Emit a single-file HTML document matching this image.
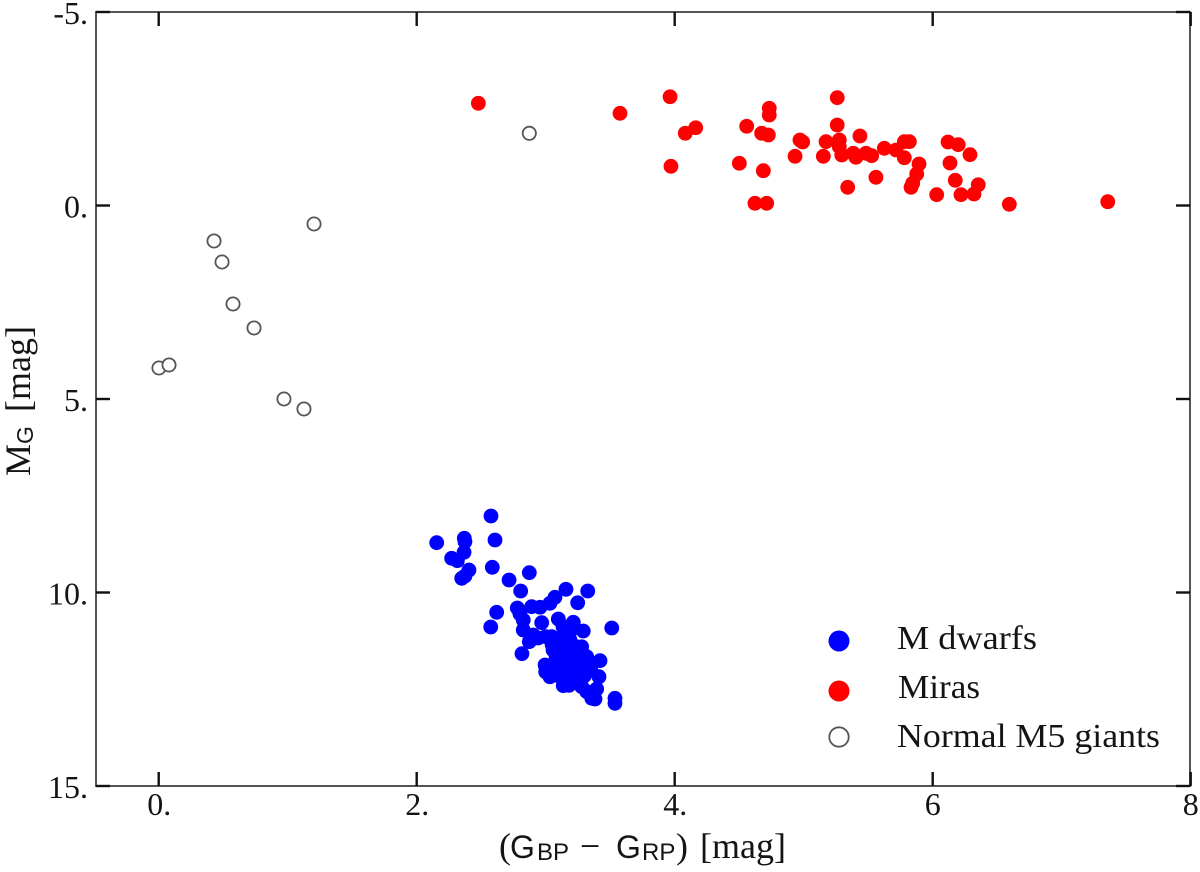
<!DOCTYPE html>
<html lang="en">
<head>
<meta charset="utf-8">
<title>Colour-magnitude diagram</title>
<style>
html,body{margin:0;padding:0;background:#fff;}
svg{display:block;filter:blur(0.35px);}
text{font-family:"Liberation Serif",serif;fill:#141414;}
.sans{font-family:"Liberation Sans",sans-serif;}
</style>
</head>
<body>
<svg id="chart" xmlns="http://www.w3.org/2000/svg" width="1200" height="872" viewBox="0 0 1200 872">
  <g id="marks"></g>
  <rect x="96" y="12" width="1094" height="774" fill="none" stroke="#555" stroke-width="2"></rect>
  <g id="axes"></g>
  <text y="858" font-size="36"><tspan x="499">(</tspan><tspan class="sans" font-size="32" x="510">G</tspan><tspan class="sans" font-size="24" x="537" dy="2">BP</tspan><tspan x="580" dy="-2" font-size="36">−</tspan><tspan class="sans" font-size="32" x="616">G</tspan><tspan class="sans" font-size="24" x="642" dy="2">RP</tspan><tspan x="676" dy="-2" font-size="36">)</tspan><tspan x="700" font-size="36">[mag]</tspan></text>
  <text transform="translate(30,476) rotate(-90)" font-size="36"><tspan x="0">M</tspan><tspan class="sans" font-size="23" x="32" dy="3">G</tspan><tspan x="64" dy="-3" font-size="36">[mag]</tspan></text>
  <g>
    <g>
      <circle cx="839" cy="641" r="10.5" fill="#0000ff"></circle>
      <text x="897" y="649" font-size="34" textLength="140" lengthAdjust="spacingAndGlyphs">M dwarfs</text>
    </g>
    <g>
      <circle cx="839" cy="691" r="10.5" fill="#ff0000"></circle>
      <text x="898" y="698" font-size="34" textLength="82" lengthAdjust="spacingAndGlyphs">Miras</text>
    </g>
    <g>
      <circle cx="839" cy="737" r="9.7" fill="#fff" stroke="#555" stroke-width="1.8"></circle>
      <text x="897" y="747" font-size="34" textLength="263" lengthAdjust="spacingAndGlyphs">Normal M5 giants</text>
    </g>
  </g>
</svg>
<script>
const xTickValues = [0, 2, 4, 6, 8];
const xTickLabels = ["0.", "2.", "4.", "6", "8"];
const yTickValues = [-5, 0, 5, 10, 15];
const yTickLabels = ["-5.", "0.", "5.", "10.", "15."];

const miraColour = [2.478,3.576,3.964,3.971,4.163,4.082,4.558,4.501,4.687,4.674,4.726,4.733,4.733,4.622,4.713,4.971,4.992,4.933,5.260,5.260,5.173,5.152,5.276,5.276,5.295,5.436,5.384,5.405,5.483,5.527,5.341,5.560,5.625,5.716,5.780,5.780,5.819,5.894,5.876,5.845,5.832,6.031,6.119,6.198,6.289,6.134,6.175,6.219,6.320,6.353,6.594,7.357];
const miraMag = [-2.641,-2.382,-2.811,-1.013,-2.010,-1.866,-2.047,-1.090,-0.899,-1.866,-1.822,-2.512,-2.339,-0.057,-0.057,-1.693,-1.641,-1.271,-2.786,-2.080,-1.649,-1.271,-1.693,-1.519,-1.305,-1.796,-1.349,-1.245,-1.349,-1.287,-0.470,-0.729,-1.478,-1.434,-1.235,-1.649,-1.649,-1.072,-0.814,-0.574,-0.470,-0.279,-1.641,-1.571,-1.313,-1.098,-0.651,-0.279,-0.297,-0.537,-0.031,-0.098];

const dwarfColour = [2.576,2.607,2.155,2.369,2.374,2.367,2.271,2.315,2.586,2.405,2.374,2.349,2.873,2.716,2.806,3.157,3.326,3.248,3.072,3.033,2.780,2.891,2.956,2.620,2.574,2.826,2.969,3.098,3.214,3.291,3.512,2.826,2.904,2.873,2.940,2.816,3.047,3.134,3.188,3.279,3.421,2.995,3.033,3.413,3.136,3.395,3.382,3.357,3.537,3.537,3.279,3.318,3.057,3.085,3.163,3.240,3.318,3.111,3.188,3.279,3.214,3.279,3.033,3.163,3.163,3.240,3.111,3.188,3.120,3.200,3.130,3.100,3.250,3.350,3.250,3.050,3.350,3.000,2.800,3.000,3.080,3.300,3.180];
const dwarfMag = [8.023,8.643,8.713,8.599,8.687,8.961,9.116,9.178,9.349,9.419,9.574,9.633,9.488,9.677,9.961,9.917,9.961,10.264,10.124,10.279,10.401,10.367,10.382,10.512,10.891,10.711,10.780,10.685,10.770,10.995,10.917,10.969,11.098,11.271,11.176,11.581,11.142,10.884,11.227,11.401,11.762,11.873,12.176,12.176,12.408,12.494,12.752,12.734,12.734,12.863,12.434,12.563,11.486,11.744,11.571,11.659,11.659,12.003,11.917,12.003,12.217,12.080,11.917,12.176,11.313,11.401,11.176,11.013,11.550,11.450,11.800,12.150,11.850,11.900,12.300,11.350,12.000,11.140,10.550,12.050,11.700,12.150,12.400];

const giantColour = [2.873,0.429,0.491,0.576,0.739,0.002,0.080,0.971,1.126,1.204];
const giantMag = [-1.866,0.917,1.460,2.545,3.165,4.199,4.121,5.000,5.258,0.478];

const SVG_NS = "http://www.w3.org/2000/svg";
const X_ORIGIN = 158.7, X_SCALE = 129;
const Y_ORIGIN = 205.5, Y_SCALE = 38.7;
const LEFT = 96, RIGHT = 1190, TOP = 12, BOTTOM = 786, TICK = 14;

function xAxis(v) { return X_ORIGIN + v * X_SCALE; }
function yAxis(v) { return Y_ORIGIN + v * Y_SCALE; }

function make(tag, attrs) {
  const el = document.createElementNS(SVG_NS, tag);
  for (const k in attrs) el.setAttribute(k, attrs[k]);
  return el;
}

const marks = document.getElementById("marks");
const axes = document.getElementById("axes");

function drawFilled(xs, ys, colour, name) {
  xs.forEach(function (v, i) {
    const c = make("circle", { cx: xAxis(v), cy: yAxis(ys[i]), r: 7.4, fill: colour });
    
    
    marks.appendChild(c);
  });
}

drawFilled(miraColour, miraMag, "#ff0000", "mira-point");
drawFilled(dwarfColour, dwarfMag, "#0000ff", "m-dwarf-point");

giantColour.forEach(function (v, i) {
  const c = make("circle", { cx: xAxis(v), cy: yAxis(giantMag[i]), r: 6.6, fill: "#fff", stroke: "#555", "stroke-width": 1.8 });
  
  
  marks.appendChild(c);
});

function tickLine(x1, y1, x2, y2, name) {
  const t = make("line", { x1: x1, y1: y1, x2: x2, y2: y2, stroke: "#111", "stroke-width": 2.4 });
  
  
  axes.appendChild(t);
}

xTickValues.forEach(function (v, i) {
  const x = xAxis(v);
  tickLine(x, BOTTOM, x, BOTTOM - TICK, 'x-tick-bottom');
  tickLine(x, TOP, x, TOP + TICK, 'x-tick-top');
  const label = make("text", { x: xTickLabels[i].length > 1 ? x - 11.5 : x - 8, y: 815, "font-size": 32 });
  label.textContent = xTickLabels[i];
  
  
  axes.appendChild(label);
});

yTickValues.forEach(function (v, i) {
  const y = yAxis(v);
  tickLine(LEFT, y, LEFT + TICK, y, 'y-tick-left');
  tickLine(RIGHT, y, RIGHT - TICK, y, 'y-tick-right');
  const label = make("text", { x: 88, y: y + 12, "font-size": 32, "text-anchor": "end" });
  label.textContent = yTickLabels[i];
  
  
  axes.appendChild(label);
});
</script>
</body>
</html>
